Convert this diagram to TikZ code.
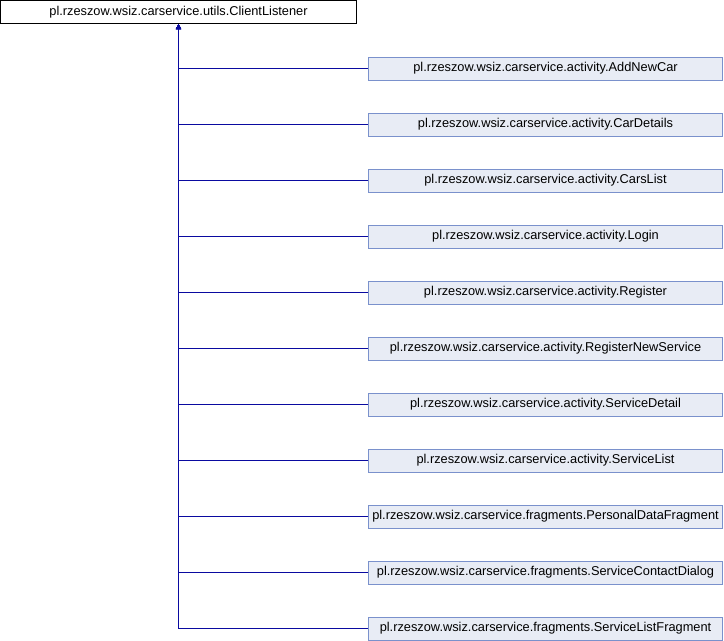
\documentclass[tikz,border=0pt]{standalone}
\usepackage{fontspec}
\setsansfont{Liberation Sans}
\usepackage{tikz}
\usetikzlibrary{
    positioning,
    arrows.meta
}

\begin{document}
\begin{tikzpicture}[
    x=0.75pt, y=-0.75pt,
    font=\sffamily\fontsize{9.6}{11}\selectfont,
    base/.style={
    	draw=black, fill=white,
    	minimum width=267pt,
    	minimum height=17.25pt,
    	inner sep=0pt, line width=0.75pt
    }, derived/.style={
    	draw=my-border, fill=my-fill,
    	minimum width=265.5pt,
    	minimum height=17.25pt,
    	inner sep=0pt, line width=0.75pt
    }, pil/.style={
    	-{Triangle[length=3.8pt, width=3.6pt]},
    	draw=my-blue,
    	line width=0.8pt
    }]
    \definecolor{my-blue}{RGB}{10, 10, 160}
    \definecolor{my-border}{RGB}{122, 145, 204}
    \definecolor{my-fill}{RGB}{232, 236, 245}

    \useasboundingbox (0,0) rectangle (724,640);

    %%% BASE
    \node[base] (listener) at (178.5,12) {pl.rzeszow.wsiz.carservice.utils.ClientListener};

    %%% DERIVED
    \node[derived] (addnewcar) at (545.5,68.5) {pl.rzeszow.wsiz.carservice.activity.AddNewCar};
    \node[derived] (cardetails) at (545.5,124.5) {pl.rzeszow.wsiz.carservice.activity.CarDetails};
    \node[derived] (carslist) at (545.5,180.5) {pl.rzeszow.wsiz.carservice.activity.CarsList};
    \node[derived] (login) at (545.5,236.5) {pl.rzeszow.wsiz.carservice.activity.Login};
    \node[derived] (register) at (545.5,292.5) {pl.rzeszow.wsiz.carservice.activity.Register};
    \node[derived] (registerservice) at (545.5,348.5) {pl.rzeszow.wsiz.carservice.activity.RegisterNewService};
    \node[derived] (servicedetail) at (545.5,404.5) {pl.rzeszow.wsiz.carservice.activity.ServiceDetail};
    \node[derived] (servicelist) at (545.5,460.5) {pl.rzeszow.wsiz.carservice.activity.ServiceList};
    \node[derived] (personaldata) at (545.5,516.5) {pl.rzeszow.wsiz.carservice.fragments.PersonalDataFragment};
    \node[derived] (contactdialog) at (545.5,572.5) {pl.rzeszow.wsiz.carservice.fragments.ServiceContactDialog};
    \node[derived] (servicelistfrag) at (545.5,628.5) {pl.rzeszow.wsiz.carservice.fragments.ServiceListFragment};

    %%% EDGES
    \draw[pil] (addnewcar) -| (listener);
    \draw[pil] (cardetails) -| (listener);
    \draw[pil] (carslist) -| (listener);
    \draw[pil] (login) -| (listener);
    \draw[pil] (register) -| (listener);
    \draw[pil] (registerservice) -| (listener);
    \draw[pil] (servicedetail) -| (listener);
    \draw[pil] (servicelist) -| (listener);
    \draw[pil] (personaldata) -| (listener);
    \draw[pil] (contactdialog) -| (listener);
    \draw[pil] (servicelistfrag) -| (listener);
    %%% EDGES

\end{tikzpicture}
\end{document}
